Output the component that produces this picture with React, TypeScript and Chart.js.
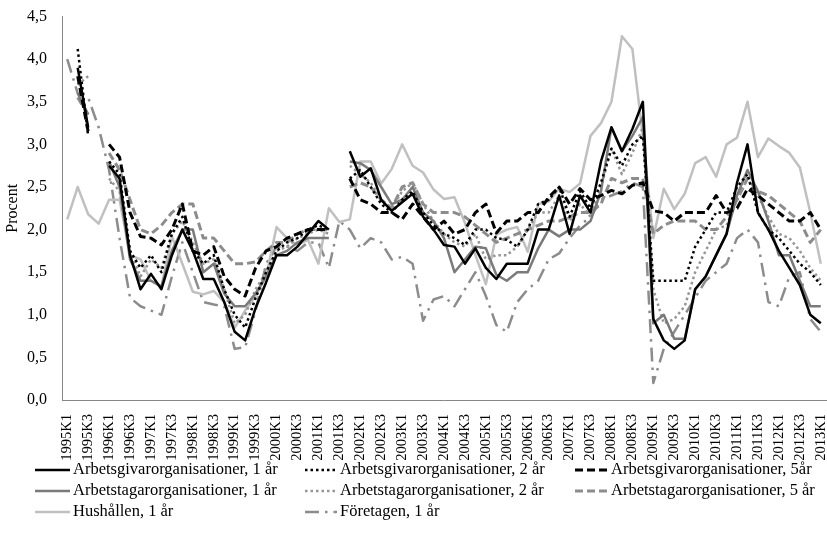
import React, { useEffect, useRef } from 'react';
import { Chart, registerables } from 'chart.js';

Chart.register(...registerables);

const quarterLabels: string[] = [
  '1995K1','1995K2','1995K3','1995K4','1996K1','1996K2','1996K3','1996K4',
  '1997K1','1997K2','1997K3','1997K4','1998K1','1998K2','1998K3','1998K4',
  '1999K1','1999K2','1999K3','1999K4','2000K1','2000K2','2000K3','2000K4',
  '2001K1','2001K2','2001K3','2001K4','2002K1','2002K2','2002K3','2002K4',
  '2003K1','2003K2','2003K3','2003K4','2004K1','2004K2','2004K3','2004K4',
  '2005K1','2005K2','2005K3','2005K4','2006K1','2006K2','2006K3','2006K4',
  '2007K1','2007K2','2007K3','2007K4','2008K1','2008K2','2008K3','2008K4',
  '2009K1','2009K2','2009K3','2009K4','2010K1','2010K2','2010K3','2010K4',
  '2011K1','2011K2','2011K3','2011K4','2012K1','2012K2','2012K3','2012K4',
  '2013K1'
];

const yTickValues: number[] = [0, 0.5, 1, 1.5, 2, 2.5, 3, 3.5, 4, 4.5];

const seriesNames: string[] = [
  'Arbetsgivarorganisationer, 1 år',
  'Arbetsgivarorganisationer, 2 år',
  'Arbetsgivarorganisationer, 5år',
  'Arbetstagarorganisationer, 1 år',
  'Arbetstagarorganisationer, 2 år',
  'Arbetstagarorganisationer, 5 år',
  'Hushållen, 1 år',
  'Företagen, 1 år'
];

type V = number | null;

const arbetsgivare1: V[] = [
  null, 3.9, 3.2, null, 2.75, 2.6, 1.7, 1.3, 1.48, 1.3, 1.7, 2.0, 1.75, 1.42, 1.42, 1.15,
  0.8, 0.7, 1.08, 1.38, 1.7, 1.7, 1.8, 1.95, 2.1, 2.0, null, 2.92, 2.62, 2.72, 2.35, 2.22,
  2.32, 2.42, 2.15, 2.0, 1.82, 1.8, 1.6, 1.78, 1.55, 1.42, 1.6, 1.6, 1.6, 2.0, 2.0, 2.4,
  1.95, 2.4, 2.2, 2.8, 3.2, 2.92, 3.18, 3.5, 0.95, 0.7, 0.6, 0.7, 1.3, 1.45, 1.7, 1.95,
  2.55, 3.0, 2.2, 2.0, 1.75, 1.55, 1.35, 1.0, 0.9
];

const arbetsgivare2: V[] = [
  null, 4.12, 3.1, null, 2.8, 2.65, 1.75, 1.55, 1.7, 1.5, 1.95, 2.15, 1.75, 1.6, 1.7, 1.3,
  1.0, 0.85, 1.2, 1.5, 1.75, 1.85, 1.9, 2.0, 2.05, 2.0, null, 2.6, 2.7, 2.5, 2.3, 2.2,
  2.35, 2.45, 2.2, 2.05, 1.95, 1.9, 1.82, 2.0, 2.0, 1.9, 1.88, 1.8, 2.0, 2.3, 2.35, 2.5,
  2.15, 2.45, 2.25, 2.55, 2.95, 2.75, 3.0, 3.1, 1.4, 1.4, 1.4, 1.4, 1.8, 2.0, 2.2, 2.2,
  2.5, 2.65, 2.2, 2.0, 1.9, 1.75, 1.6, 1.5, 1.35
];

const arbetsgivare5: V[] = [
  null, 3.8, 3.15, null, 3.0, 2.85, 2.2, 1.92, 1.9, 1.82, 2.0, 2.3, 1.75, 1.7, 1.8, 1.45,
  1.3, 1.22, 1.55, 1.75, 1.8, 1.9, 1.95, 2.0, 2.0, 2.0, null, 2.6, 2.35, 2.3, 2.2, 2.2,
  2.12, 2.3, 2.15, 2.0, 2.1, 1.95, 2.0, 2.2, 2.3, 1.96, 2.1, 2.1, 2.2, 2.2, 2.38, 2.5,
  2.3, 2.48, 2.35, 2.4, 2.46, 2.42, 2.52, 2.55, 2.22, 2.2, 2.1, 2.2, 2.2, 2.2, 2.4, 2.2,
  2.25, 2.48, 2.4, 2.3, 2.2, 2.1, 2.1, 2.2, 2.0
];

const arbetstagare1: V[] = [
  null, 3.6, 3.35, null, 2.8, 2.5, 1.65, 1.4, 1.4, 1.33, 1.75, 2.0, 2.0, 1.5, 1.6, 1.25,
  1.1, 1.1, 1.25, 1.45, 1.7, 1.75, 1.85, 1.9, 1.9, 1.9, null, 2.8, 2.78, 2.7, 2.5, 2.3,
  2.35, 2.5, 2.2, 2.1, 1.9, 1.5, 1.65, 1.8, 1.78, 1.47, 1.4, 1.5, 1.5, 1.78, 2.0, 1.92,
  2.0, 2.0, 2.1, 2.45, 3.2, 2.92, 3.1, 3.32, 0.9, 1.0, 0.72, 0.72, 1.3, 1.45, 1.7, 1.95,
  2.4, 2.7, 2.45, 2.1, 1.7, 1.7, 1.4, 1.1, 1.1
];

const arbetstagare2: V[] = [
  null, 3.7, 3.8, null, 2.6, 2.45, 1.75, 1.45, 1.65, 1.55, 1.95, 2.1, 1.85, 1.6, 1.65, 1.3,
  0.9, 1.0, 1.3, 1.5, 1.75, 1.8, 1.9, 1.95, 2.0, 1.95, null, 2.75, 2.65, 2.55, 2.35, 2.25,
  2.45, 2.55, 2.3, 2.1, 1.95, 1.85, 1.8, 1.95, 1.65, 1.7, 1.7, 1.8, 2.0, 2.2, 2.2, 2.4,
  2.1, 2.3, 2.15, 2.5, 2.95, 2.65, 2.9, 3.2, 1.3, 0.9, 0.95, 1.1, 1.5, 1.75, 2.0, 2.05,
  2.35, 2.6, 2.4, 2.15, 1.95, 1.9, 1.75, 1.55, 1.4
];

const arbetstagare5: V[] = [
  null, 3.55, 3.35, null, 2.9, 2.7, 2.35, 2.0, 1.95, 2.05, 2.2, 2.3, 2.3, 1.9, 1.9, 1.75,
  1.6, 1.6, 1.62, 1.75, 1.85, 1.85, 1.95, 2.0, 2.0, 2.0, null, 2.5, 2.55, 2.5, 2.35, 2.25,
  2.5, 2.55, 2.3, 2.2, 2.2, 2.2, 2.15, 2.05, 1.95, 1.85, 1.9, 1.95, 2.0, 2.05, 2.1, 2.1,
  2.15, 2.2, 2.2, 2.3, 2.6, 2.55, 2.6, 2.6, 1.95, 2.05, 2.1, 2.1, 2.1, 2.0, 2.0, 2.15,
  2.35, 2.6, 2.45, 2.4, 2.3, 2.2, 2.1, 1.85, 2.0
];

const hushallen1: V[] = [
  2.12, 2.5, 2.18, 2.07, 2.35, 2.35, 1.7, 1.65, 1.4, 1.33, 1.92, 1.6, 1.27, 1.24, 1.28, 1.15,
  0.85, 1.05, 1.22, 1.45, 2.03, 1.9, 1.82, 1.88, 1.6, 2.25, 2.09, 2.12, 2.8, 2.8, 2.54, 2.71,
  3.0, 2.75, 2.67, 2.47, 2.36, 2.38, 2.08, 1.7, 1.36, 1.94, 2.0, 2.03, 1.74, 2.3, 2.33, 2.48,
  2.44, 2.54, 3.1, 3.25, 3.5, 4.27, 4.12, 3.1, 1.9, 2.48, 2.24, 2.42, 2.78, 2.85, 2.62, 3.0,
  3.08, 3.5, 2.85, 3.07, 2.98, 2.9, 2.73, 2.2, 1.6
];

const foretagen1: V[] = [
  4.0, 3.6, 3.55, 3.2, 2.7, 1.9, 1.2, 1.1, 1.05, 1.0, 1.45, 1.85, 1.5, 1.15, 1.12, 1.1,
  0.6, 0.62, 1.05, 1.6, 1.8, 1.8, 1.75, 1.85, 1.85, 1.55, 2.1, 2.0, 1.78, 1.9, 1.85, 1.65,
  1.68, 1.6, 0.93, 1.18, 1.22, 1.1, 1.3, 1.5, 1.22, 0.88, 0.8, 1.15, 1.3, 1.4, 1.65, 1.72,
  1.9, 2.05, 2.15, 2.35, 2.4, 2.45, 2.55, 2.5, 0.2, 0.6, 0.8, 1.0, 1.2, 1.4, 1.5, 1.6,
  1.9, 2.0, 1.85, 1.15, 1.1, 1.45, 1.5, 0.95, 0.8
];

const FONT = "'Liberation Serif', 'Times New Roman', serif";

const legendPlugin = {
  id: 'gridLegend',
  afterDraw(chart: any) {
    const ctx: CanvasRenderingContext2D = chart.ctx;
    const cols = [35, 305, 575];
    const sampleLens = [35, 32, 32];
    const textGaps = [3, 3, 4];
    const rows = [470, 491, 512];
    chart.data.datasets.forEach((ds: any, i: number) => {
      const c = i % 3;
      const r = Math.floor(i / 3);
      const x = cols[c];
      const y = rows[r];
      ctx.save();
      ctx.beginPath();
      ctx.strokeStyle = ds.borderColor;
      ctx.lineWidth = ds.borderWidth;
      ctx.setLineDash(ds.borderDash || []);
      ctx.moveTo(x, y);
      ctx.lineTo(x + sampleLens[c], y);
      ctx.stroke();
      ctx.setLineDash([]);
      ctx.fillStyle = '#000';
      ctx.font = `16.5px ${FONT}`;
      ctx.textBaseline = 'middle';
      ctx.textAlign = 'left';
      ctx.fillText(ds.label, x + sampleLens[c] + textGaps[c], y);
      ctx.restore();
    });
  }
};

export default function App() {
  const canvasRef = useRef<HTMLCanvasElement | null>(null);

  useEffect(() => {
    if (!canvasRef.current) return;
    const mk = (label: string, data: V[], color: string, width: number, dash: number[]) => ({
      label,
      data,
      borderColor: color,
      backgroundColor: color,
      borderWidth: width,
      borderDash: dash,
      pointRadius: 0,
      pointHoverRadius: 0,
      tension: 0,
      fill: false,
      spanGaps: false,
      borderCapStyle: 'butt' as const,
      borderJoinStyle: 'round' as const
    });

    const chart = new Chart(canvasRef.current, {
      type: 'line',
      data: {
        labels: quarterLabels,
        datasets: [
          mk(seriesNames[0], arbetsgivare1, '#000000', 2.5, []),
          mk(seriesNames[1], arbetsgivare2, '#000000', 2.5, [2.5, 3]),
          mk(seriesNames[2], arbetsgivare5, '#000000', 3, [8, 4]),
          mk(seriesNames[3], arbetstagare1, '#7a7a7a', 2.5, []),
          mk(seriesNames[4], arbetstagare2, '#959595', 2.5, [2.5, 3]),
          mk(seriesNames[5], arbetstagare5, '#8c8c8c', 3, [8, 4]),
          mk(seriesNames[6], hushallen1, '#c0c0c0', 2.5, []),
          mk(seriesNames[7], foretagen1, '#8c8c8c', 2.5, [14, 6, 2.5, 6])
        ]
      },
      options: {
        responsive: false,
        animation: false,
        devicePixelRatio: 1,
        layout: { padding: { top: 13, right: 1, left: 0, bottom: 0 } },
        plugins: {
          legend: { display: false },
          tooltip: { enabled: false }
        },
        events: [],
        scales: {
          x: {
            type: 'category',
            offset: true,
            grid: { display: false },
            border: { display: true, color: '#868686', width: 1 },
            ticks: {
              autoSkip: false,
              maxRotation: 90,
              minRotation: 90,
              padding: 6,
              color: '#000',
              font: { family: FONT, size: 14.5 },
              callback: (_v: any, idx: number) => (idx % 2 === 0 ? quarterLabels[idx] : '')
            },
            afterFit: (scale: any) => {
              scale.height = 134;
              scale.paddingLeft = 0;
              scale.paddingRight = 0;
            }
          },
          y: {
            min: 0,
            max: 4.5,
            grid: { display: false },
            border: { display: true, color: '#868686', width: 1 },
            afterBuildTicks: (scale: any) => {
              scale.ticks = yTickValues.map((v) => ({ value: v }));
            },
            ticks: {
              padding: 7,
              color: '#000',
              font: { family: FONT, size: 16 },
              callback: (v: any) => Number(v).toFixed(1).replace('.', ',')
            },
            title: {
              display: true,
              text: 'Procent',
              color: '#000',
              font: { family: FONT, size: 16 },
              padding: { top: 3, bottom: 0 }
            },
            afterFit: (scale: any) => {
              scale.width = 62;
            }
          }
        }
      },
      plugins: [legendPlugin]
    });

    return () => {
      chart.destroy();
    };
  }, []);

  return (
    <div style={{ position: 'absolute', left: 0, top: 0, width: 827, height: 534, background: '#fff' }}>
      <canvas ref={canvasRef} width={827} height={534} style={{ display: 'block' }} />
    </div>
  );
}
